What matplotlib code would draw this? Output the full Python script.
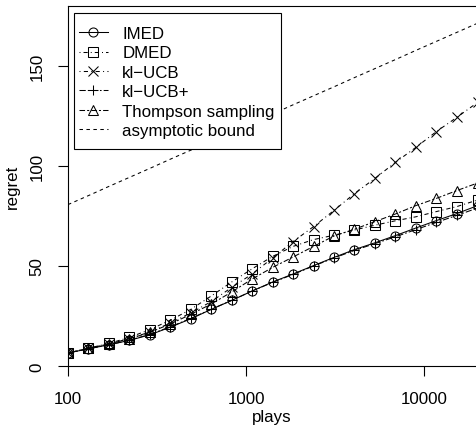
import matplotlib
matplotlib.use("Agg")
import matplotlib.pyplot as plt  # noqa: E402
from matplotlib.patches import Rectangle  # noqa: E402

plt.rcParams["font.family"] = ["Liberation Sans", "DejaVu Sans"]
plt.rcParams["lines.scale_dashes"] = False

# number of plays at each checkpoint (log-spaced, 100 .. 20000)
plays = [100, 130.3, 169.8, 221.2, 288.2, 375.6, 489.4, 637.7, 830.9,
         1082.7, 1410.8, 1838.3, 2395.3, 3121.2, 4067.0, 5299.3, 6905.2,
         8997.6, 11724, 15277, 20000]

# mean regret of each algorithm at those checkpoints
imed = [6.5, 8.6, 10.6, 12.8, 15.6, 19.4, 23.6, 28.3, 32.8, 37.5, 42.0,
        46.0, 50.2, 54.3, 58.2, 61.6, 65.2, 69.0, 72.7, 76.2, 80.2]
dmed = [6.5, 8.9, 11.3, 14.3, 18.2, 22.9, 28.3, 35.0, 42.0, 48.6, 54.8,
        59.8, 63.2, 65.4, 68.0, 70.4, 72.6, 74.6, 77.2, 79.7, 83.0]
kl_ucb = [6.5, 8.8, 11.0, 13.7, 17.0, 21.5, 26.5, 32.2, 39.3, 46.0, 54.0,
          62.2, 69.7, 77.8, 86.2, 93.8, 101.8, 109.3, 117.2, 124.3, 131.8]
kl_ucb_plus = [6.5, 8.6, 10.6, 12.9, 15.8, 19.6, 23.8, 28.4, 32.8, 37.5,
               41.8, 45.8, 50.0, 54.0, 57.8, 61.2, 64.6, 68.2, 71.8, 75.3,
               79.0]
thompson = [6.5, 8.8, 11.0, 13.6, 16.8, 21.0, 25.8, 31.0, 37.0, 43.5, 49.3,
            54.5, 59.8, 65.0, 68.4, 72.2, 76.0, 80.2, 83.8, 87.7, 91.5]
# Lai & Robbins lower bound, linear in log(plays)
bound = [80.7, 85.2, 89.8, 94.3, 98.8, 103.4, 107.9, 112.4, 117.0, 121.5,
         126.0, 130.6, 135.1, 139.6, 144.2, 148.7, 153.2, 157.8, 162.3,
         166.8, 171.4]

series = [
    ("IMED", imed, "o", "-"),
    ("DMED", dmed, "s", (0, (0.7, 2.2, 3.0, 2.2))),
    ("kl\u2212UCB", kl_ucb, "x", (0, (0.7, 2.4, 3.0, 2.4))),
    ("kl\u2212UCB+", kl_ucb_plus, "+", (0, (4.5, 1.5, 1.2, 1.5))),
    ("Thompson sampling", thompson, "^", (0, (4.0, 1.5, 1.5, 1.5))),
]

FS = 12.2
W, H = 477, 431
AX_W, AX_H = 409.6, 360

fig = plt.figure(figsize=(W / 100, H / 100), dpi=100)
ax = fig.add_axes([68 / W, 64 / H, AX_W / W, AX_H / H])

for label, ys, marker, ls in series:
    ax.plot(plays, ys, color="black", lw=0.75, ls=ls, marker=marker,
            ms=6.5 if marker != "^" else 7, mfc="none", mec="black",
            mew=0.75, label=label)
ax.plot(plays, bound, color="black", lw=0.75, ls=(0, (2.5, 2.5)),
        label="asymptotic bound")

ax.set_xscale("log")
ax.set_xlim(100, 20000)
ax.set_ylim(0, 180)
ax.set_xticks([100, 1000, 10000])
ax.set_xticklabels(["100", "1000", "10000"])
ax.xaxis.set_minor_locator(matplotlib.ticker.NullLocator())
ax.set_yticks([0, 50, 100, 150])
ax.tick_params(axis="both", direction="out", length=7.5, width=0.8,
               labelsize=FS, color="black")
ax.tick_params(axis="x", pad=10.5)
ax.tick_params(axis="y", pad=9.5)
for t in ax.get_yticklabels():
    t.set_rotation(90)
    t.set_va("center")

for side in ("top", "left", "bottom"):
    ax.spines[side].set_linewidth(0.8)
ax.spines["right"].set_visible(False)

ax.set_xlabel("plays", fontsize=FS, va="center")
ax.xaxis.set_label_coords((272 - 68) / AX_W, (367 - 418) / AX_H)
ax.set_ylabel("regret", fontsize=FS, va="center")
ax.yaxis.set_label_coords((12 - 68) / AX_W, 0.5)

# legend entries without frame; the box is drawn separately with R-style
# padding above and below the rows
ax.legend(loc="upper left", bbox_to_anchor=(6 / AX_W, (367 - 22) / AX_H),
          borderaxespad=0, fontsize=FS, frameon=False, handlelength=1.7,
          handletextpad=0.85, borderpad=0.3, labelspacing=0.26,
          numpoints=1)
ax.add_patch(Rectangle((6 / AX_W, (367 - 150) / AX_H), 207 / AX_W,
                       136 / AX_H, transform=ax.transAxes, fill=True,
                       facecolor="white", edgecolor="black", lw=0.8,
                       zorder=4.5))

fig.savefig("out.png", dpi=100)
